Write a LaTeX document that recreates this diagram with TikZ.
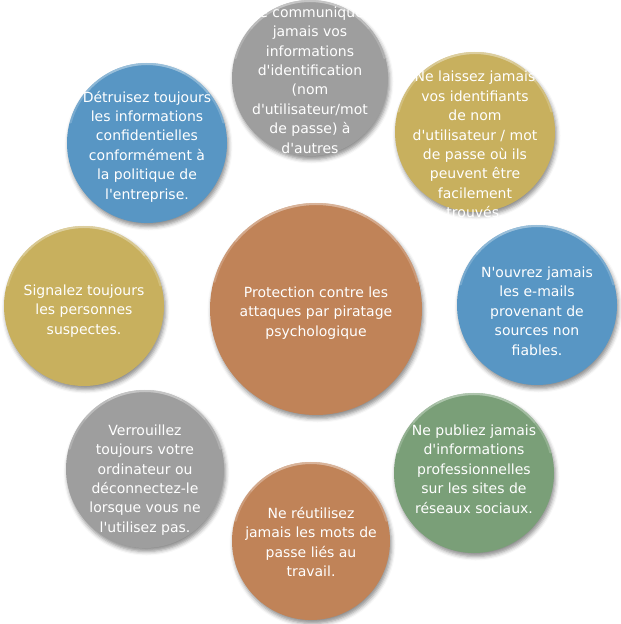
\documentclass[tikz,border=0pt]{standalone}
\usepackage{fontspec}
\setmainfont{DejaVu Sans}[Ligatures=TeXOff]
\usetikzlibrary{shadows.blur}
\definecolor{corange}{RGB}{192,131,88}
\definecolor{cgray}{RGB}{158,158,158}
\definecolor{cyellow}{RGB}{200,176,94}
\definecolor{cblue}{RGB}{88,150,196}
\definecolor{cgreen}{RGB}{122,159,120}
\tikzset{
  bubble/.style={circle, inner sep=0pt, fill=#1,
    blur shadow={shadow xshift=1.5pt, shadow yshift=-3.5pt, shadow blur radius=4pt, shadow opacity=45}},
  btext/.style={text=white, align=center, inner sep=0pt,
    font=\fontsize{14}{19.4}\selectfont},
  rim/.style={draw=#1!45!white, line width=2pt, line cap=round, opacity=0.35},
}
% \rimarcs{node}{colour}{radius}
\newcommand\rimarcs[3]{%
  \draw[rim=#2] ([shift={(15:#3)}]#1.center) arc (15:165:#3);
  \draw[rim=#2] ([shift={(40:#3)}]#1.center) arc (40:140:#3);
  \draw[rim=#2] ([shift={(62:#3)}]#1.center) arc (62:118:#3);
}
\begin{document}
\begin{tikzpicture}[x=1pt,y=-1pt]
\useasboundingbox (0,0) rectangle (621,624);
% centre
\node[bubble=corange, minimum size=212pt] (c0) at (316,309) {};
\rimarcs{c0}{corange}{105pt}
\node[btext] (t0) at (316,313) {Protection contre les\\attaques par piratage\\psychologique};
% top
\node[bubble=cgray, minimum size=156pt] (c1) at (310,78) {};
\rimarcs{c1}{cgray}{77pt}
\node[btext] (t1) at (310,91) {Ne communiquez\\jamais vos\\informations\\d'identification\\(nom\\d'utilisateur/mot\\de passe) à\\d'autres\\personnes.};
% top right
\node[bubble=cyellow, minimum size=160pt] (c2) at (475,132) {};
\rimarcs{c2}{cyellow}{79pt}
\node[btext] (t2) at (475,144.5) {Ne laissez jamais\\vos identifiants\\de nom\\d'utilisateur / mot\\de passe où ils\\peuvent être\\facilement\\trouvés.};
% right
\node[bubble=cblue, minimum size=160pt] (c3) at (537,305) {};
\rimarcs{c3}{cblue}{79pt}
\node[btext] (t3) at (537,311) {N'ouvrez jamais\\les e-mails\\provenant de\\sources non\\fiables.};
% bottom right
\node[bubble=cgreen, minimum size=160pt] (c4) at (474,473) {};
\rimarcs{c4}{cgreen}{79pt}
\node[btext] (t4) at (474,469) {Ne publiez jamais\\d'informations\\professionnelles\\sur les sites de\\réseaux sociaux.};
% bottom
\node[bubble=corange, minimum size=158pt] (c5) at (311,541) {};
\rimarcs{c5}{corange}{78pt}
\node[btext] (t5) at (311,542) {Ne réutilisez\\jamais les mots de\\passe liés au\\travail.};
% bottom left
\node[bubble=cgray, minimum size=158pt] (c6) at (145,469) {};
\rimarcs{c6}{cgray}{78pt}
\node[btext] (t6) at (145,480) {Verrouillez\\toujours votre\\ordinateur ou\\déconnectez-le\\lorsque vous ne\\l'utilisez pas.};
% left
\node[bubble=cyellow, minimum size=160pt] (c7) at (84,306) {};
\rimarcs{c7}{cyellow}{79pt}
\node[btext] (t7) at (84,311) {Signalez toujours\\les personnes\\suspectes.};
% top left
\node[bubble=cblue, minimum size=160pt] (c8) at (147,143) {};
\rimarcs{c8}{cblue}{79pt}
\node[btext] (t8) at (147,146.5) {Détruisez toujours\\les informations\\confidentielles\\conformément à\\la politique de\\l'entreprise.};
\end{tikzpicture}
\end{document}
